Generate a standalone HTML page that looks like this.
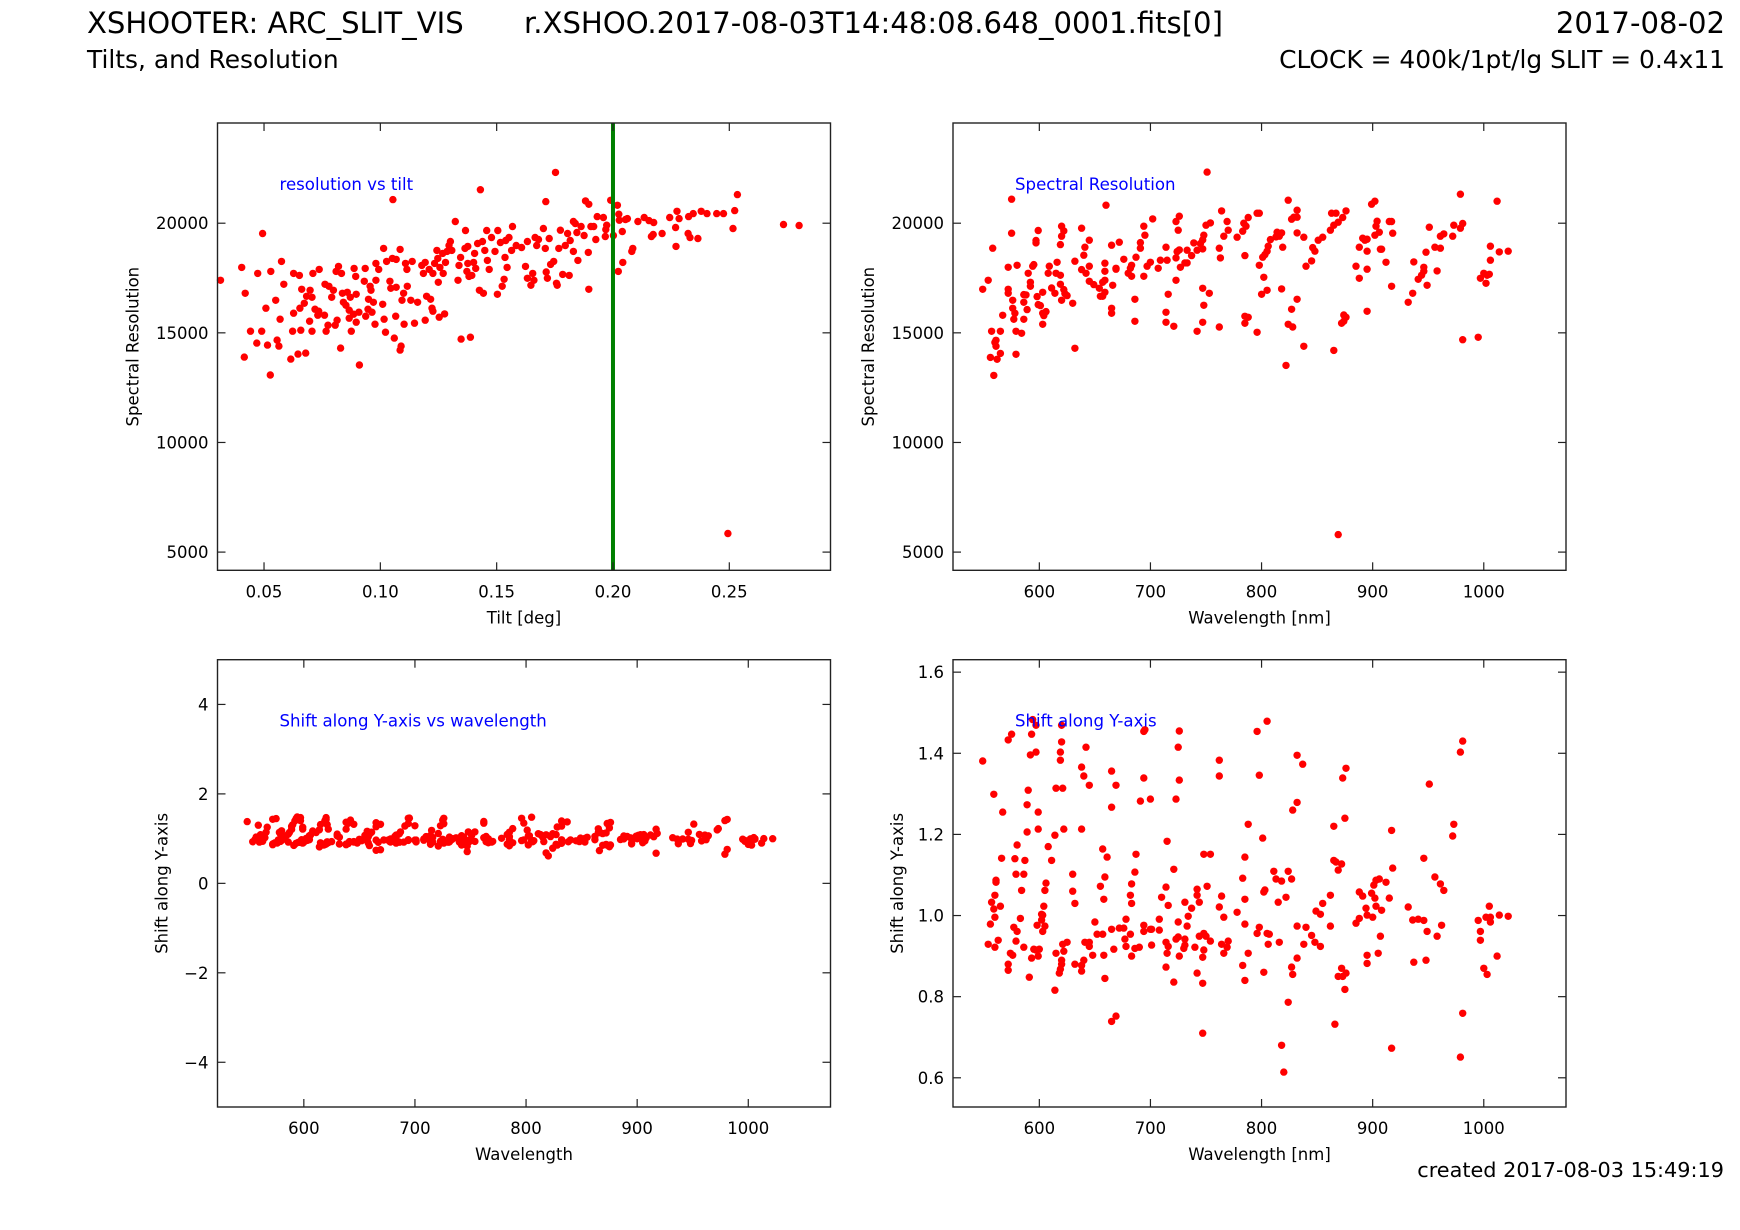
<!DOCTYPE html>
<html><head><meta charset="utf-8"><style>
html,body{margin:0;padding:0;background:#fff;}
svg{display:block;font-family:"DejaVu Sans","Liberation Sans",sans-serif;}
</style></head><body>
<svg id="fig" width="1740" height="1230" viewBox="0 0 1740 1230">
<text x="87" y="33" font-size="29.1" fill="#000">XSHOOTER: ARC_SLIT_VIS</text>
<text x="524" y="33" font-size="29.1" fill="#000">r.XSHOO.2017-08-03T14:48:08.648_0001.fits[0]</text>
<text x="1725" y="33" font-size="29.1" text-anchor="end" fill="#000">2017-08-02</text>
<text x="87" y="68" font-size="24.9" fill="#000">Tilts, and Resolution</text>
<text x="1725" y="68" font-size="24.9" text-anchor="end" fill="#000">CLOCK = 400k/1pt/lg SLIT = 0.4x11</text>
<text x="1724" y="1177" font-size="20.8" text-anchor="end" fill="#000">created 2017-08-03 15:49:19</text>
</svg>
<script>
const tilt1=[0.0313,0.0404,0.0419,0.0415,0.0442,0.0469,0.0473,0.0494,0.0490,0.0508,0.0515,0.0529,0.0527,0.0550,0.0556,0.0564,0.0575,0.0569,0.0585,0.0615,0.0623,0.0627,0.0627,0.0646,0.0652,0.0654,0.0658,0.0662,0.0673,0.0679,0.0683,0.0698,0.0706,0.0706,0.0696,0.0710,0.0719,0.0731,0.0737,0.0735,0.0762,0.0760,0.0767,0.0779,0.0775,0.0791,0.0798,0.0806,0.0810,0.0820,0.0814,0.0829,0.0833,0.0837,0.0841,0.0852,0.0858,0.0866,0.0871,0.0866,0.0875,0.0887,0.0885,0.0894,0.0896,0.0896,0.0910,0.0908,0.0931,0.0935,0.0937,0.0947,0.0949,0.0956,0.0960,0.0964,0.0970,0.0977,0.0981,0.0981,0.0993,0.1010,0.1016,0.1014,0.1022,0.1027,0.1041,0.1045,0.1052,0.1054,0.1068,0.1068,0.1060,0.1066,0.1085,0.1085,0.1089,0.1093,0.1100,0.1102,0.1108,0.1114,0.1116,0.1131,0.1137,0.1147,0.1160,0.1178,0.1185,0.1193,0.1193,0.1199,0.1210,0.1216,0.1222,0.1226,0.1226,0.1233,0.1243,0.1249,0.1247,0.1253,0.1256,0.1270,0.1268,0.1276,0.1280,0.1287,0.1295,0.1301,0.1307,0.1322,0.1334,0.1338,0.1345,0.1347,0.1364,0.1366,0.1372,0.1376,0.1376,0.1387,0.1381,0.1393,0.1401,0.1405,0.1410,0.1418,0.1426,0.1430,0.1439,0.1443,0.1449,0.1457,0.1460,0.1468,0.1478,0.1493,0.1505,0.1503,0.1516,0.1524,0.1532,0.1536,0.1539,0.1545,0.1553,0.1564,0.1568,0.1584,0.1607,0.1624,0.1632,0.1632,0.1647,0.1655,0.1660,0.1665,0.1672,0.1680,0.1701,0.1709,0.1711,0.1713,0.1718,0.1726,0.1732,0.1745,0.1753,0.1757,0.1760,0.1767,0.1774,0.1784,0.1795,0.1805,0.1812,0.1816,0.1830,0.1830,0.1838,0.1845,0.1849,0.1863,0.1876,0.1882,0.1896,0.1896,0.1894,0.1905,0.1917,0.1926,0.1932,0.1959,0.1967,0.1969,0.1973,0.1990,0.2002,0.2019,0.2025,0.2023,0.2027,0.2040,0.2042,0.2054,0.2062,0.2081,0.2085,0.2107,0.2134,0.2155,0.2175,0.2165,0.2173,0.2211,0.2244,0.2271,0.2269,0.2275,0.2284,0.2325,0.2323,0.2331,0.2345,0.2365,0.2379,0.2404,0.2446,0.2475,0.2494,0.2516,0.2523,0.2535,0.2733,0.2800];
const res1=[17394,17985,16803,13894,15076,14531,17712,19530,15076,16122,14440,17803,13076,16485,14667,14394,18258,15622,17212,13803,15076,17712,15894,14031,17621,16122,15121,16985,16349,14076,16667,16940,16621,15076,15531,17712,16076,15803,17894,15985,17212,15803,15076,17121,15349,16621,16940,15349,17803,18030,15576,14303,17712,16803,16394,16258,16849,15667,16621,16031,15076,17940,15849,17576,16758,15485,13531,15940,17349,17940,15758,16076,16531,17121,16940,15940,16394,15394,17394,18167,17894,16303,15622,18849,15031,18258,17349,17031,18394,21076,17076,18349,14758,15758,18803,14213,14394,16485,16803,15394,18167,17894,17121,16485,18258,15440,16394,18076,17712,18212,15576,16667,17894,16531,16122,17712,15985,18167,18758,17303,18394,15713,17985,17712,18621,15864,18212,18713,18985,19167,18758,20076,17394,18076,18440,14713,18849,19667,17803,18167,18940,14803,17576,17621,18212,18621,17940,19076,16940,21530,19167,16803,18758,19667,18303,17894,19349,18713,19667,16758,19121,17121,17440,18440,19212,17985,19349,18758,19849,18985,18894,18030,19167,17485,17167,17712,17394,19349,18985,19258,19758,18849,20985,17773,17485,19303,18121,18258,22318,17258,17167,18849,19682,17667,18985,19530,17621,19212,20076,18713,19985,19576,18303,19849,19440,21015,20864,16985,18667,19849,19849,19258,20303,20258,19394,19712,19909,21045,19440,20818,20409,17803,20136,19621,18212,20167,20212,18713,18849,20076,20258,20121,20030,19394,19485,19530,20258,18940,19803,20545,20212,20303,19530,19349,20439,19303,20545,20439,20439,20439,5849,19758,20576,21303,19939,19894];
const tiltLimit=[0.2];

const wave2=[549,554,558,575,575,572,580,572,572,576,576,567,578,577,557,565,579,584,560,561,561,565,556,562,559,579,586,586,586,589,588,592,592,590,594,595,597,597,599,598,599,601,603,604,606,603,603,608,609,611,614,615,616,619,619,619,620,622,620,622,623,625,630,620,632,632,638,640,641,645,638,642,645,645,649,654,655,657,659,659,659,659,657,665,665,666,669,669,665,672,676,680,682,683,683,686,686,687,691,691,694,695,694,697,700,702,707,709,715,714,716,714,714,721,723,723,724,726,725,723,726,727,731,733,733,737,739,742,745,747,748,747,751,754,750,753,747,748,747,742,762,764,769,770,778,766,762,763,785,788,784,786,783,785,788,785,796,798,796,798,801,802,805,800,803,805,806,808,813,816,818,814,819,818,822,824,827,832,829,832,838,832,832,827,824,828,838,840,845,848,846,851,855,862,863,865,869,873,876,867,865,869,872,874,876,874,895,902,899,904,903,906,902,893,895,888,895,908,907,912,915,917,918,891,885,895,888,917,932,936,941,944,946,937,946,949,948,956,958,961,961,964,951,972,979,981,973,979,981,995,997,1000,1002,1003,1005,1006,1014,1022,1006,1012,660];
const res2=[16986,17397,18859,21096,19543,17991,18082,16986,16804,16484,16119,15799,15891,15617,15069,15069,15069,14978,14566,14658,14384,14064,13882,13791,13060,14019,15617,16743,16393,16058,16728,17306,17124,17717,18037,18113,19102,19209,19665,16652,16286,16241,15388,15784,15967,15891,16850,17717,18037,17047,16804,17717,18219,17626,17215,19026,19406,19650,19863,16971,16789,16697,16347,16484,14293,18265,17884,18539,18904,19224,19772,17717,18037,17352,17199,17032,16667,17306,17397,17808,18174,16850,16667,16119,15891,17169,17945,17900,18996,19132,18356,17717,17945,18082,17580,15525,16530,18448,18859,19117,17580,19452,19863,18037,18219,20198,17945,18311,18311,18904,16758,15936,15480,15297,17397,18417,18706,18782,19680,20076,20320,17991,18189,18767,18189,18524,19102,18767,19072,19239,19452,18828,22329,20015,19909,16804,17032,16256,15480,15069,15266,20563,20076,19680,19361,19406,18859,18417,18524,20259,20000,19863,19635,15434,15708,15754,15023,20457,20457,18082,18448,17534,16941,16758,18569,18722,18950,19254,19376,19406,19559,19589,18904,17002,13516,21050,20183,20274,20274,19559,19361,20594,16530,16073,15388,15266,14384,18037,18280,18722,18889,19224,19361,19680,20457,19909,20046,20259,20563,20457,14201,5800,15434,15525,15708,15815,15982,21004,20868,20091,19863,19589,19452,19224,19270,18904,18722,18813,18813,18219,20076,20076,19543,19315,18037,17900,17489,17124,16393,16804,17443,17626,17808,18234,17991,17169,18676,18904,17823,18859,19406,19513,19817,19406,19772,19985,19909,21324,14688,14795,17489,17717,17260,17626,17671,18311,18691,18722,18950,21004,20822,21553];

const wave34=[549,559,567,572,575,590,589,599,592,597,594,597,593,589,599,580,566,578,608,614,622,611,619,619,620,620,615,621,642,638,640,645,638,630,630,632,665,669,665,657,661,659,655,658,694,695,694,691,700,687,686,683,682,683,726,725,726,723,715,721,714,710,716,748,754,751,742,742,744,737,731,762,762,764,762,766,778,796,805,798,788,801,785,783,785,785,802,803,811,813,818,824,827,822,815,832,837,832,828,862,855,849,853,865,875,873,876,865,867,872,869,888,891,894,899,901,903,906,912,902,903,908,915,900,895,917,918,932,936,941,946,949,946,951,956,961,964,962,958,973,972,979,981,995,1002,1005,1006,1006,1014,1022,997,997,1012,1000,1003,981,979,937,948,917,905,895,895,907,885,888,875,872,869,873,876,866,862,853,848,845,840,838,832,832,827,828,824,818,820,816,807,805,806,798,796,802,788,783,785,770,769,766,764,754,750,748,744,748,747,747,747,742,740,734,733,731,731,730,726,725,723,725,716,715,714,721,714,708,708,701,701,700,694,694,690,686,683,682,677,678,678,676,672,665,667,669,665,659,658,657,652,650,648,645,645,641,640,638,638,632,625,622,621,620,620,619,618,615,614,604,605,606,602,603,605,603,602,598,600,599,597,595,593,591,586,583,584,586,579,587,579,580,577,576,574,572,572,563,560,554,556,559,557,560,561,561,560,565];
const shift34=[1.381,1.299,1.255,1.433,1.447,1.309,1.273,1.255,1.396,1.403,1.483,1.469,1.447,1.206,1.213,1.174,1.141,1.140,1.170,1.198,1.213,1.136,1.383,1.403,1.428,1.469,1.314,1.314,1.415,1.366,1.344,1.321,1.213,1.102,1.060,1.030,1.356,1.321,1.267,1.164,1.144,1.095,1.072,1.040,1.454,1.458,1.339,1.282,1.287,1.151,1.107,1.078,1.050,1.030,1.455,1.415,1.334,1.287,1.183,1.114,1.070,1.045,1.025,1.151,1.151,1.072,1.065,1.050,1.033,1.018,1.033,1.383,1.344,1.048,1.021,0.996,1.008,1.454,1.479,1.346,1.225,1.191,1.144,1.092,1.040,0.979,1.058,1.063,1.109,1.090,1.085,1.109,1.090,1.045,1.033,1.395,1.373,1.279,1.260,1.050,1.030,1.011,1.003,1.220,1.240,1.339,1.363,1.136,1.132,1.127,1.112,1.058,1.048,1.018,1.055,1.075,1.087,1.090,1.082,1.043,1.023,1.013,1.043,0.996,1.001,1.210,1.117,1.021,0.989,0.991,0.988,0.961,1.141,1.324,1.095,1.078,1.062,0.976,0.949,1.225,1.196,1.403,1.430,0.988,0.996,1.023,0.996,0.984,1.001,0.998,0.961,0.939,0.900,0.870,0.855,0.759,0.651,0.885,0.890,0.673,0.907,0.902,0.882,0.949,0.981,0.993,0.818,0.870,0.850,0.850,0.858,0.732,0.974,0.924,0.934,0.951,0.971,0.929,0.974,0.895,0.873,0.855,0.786,0.680,0.614,0.934,0.954,0.956,0.929,0.971,0.956,0.860,0.907,0.877,0.840,0.937,0.922,0.907,0.929,0.937,0.949,0.956,0.949,0.915,0.897,0.833,0.710,0.858,0.922,0.998,0.974,0.942,0.927,0.919,0.900,0.947,0.942,0.984,0.924,0.907,0.873,0.836,0.934,0.991,0.964,0.966,0.927,0.966,0.961,0.976,0.922,0.919,0.900,0.954,0.942,0.991,0.924,0.969,0.969,0.966,0.917,0.752,0.739,0.845,0.902,0.954,0.954,0.984,0.902,0.934,0.924,0.934,0.890,0.863,0.877,0.880,0.934,0.912,0.929,0.890,0.880,0.868,0.858,0.907,0.816,1.023,1.062,1.080,1.003,1.001,0.974,0.961,0.989,0.976,0.917,0.900,0.915,0.917,0.895,0.848,0.922,0.993,1.062,1.102,1.102,1.136,0.937,0.961,0.971,0.902,0.907,0.880,0.865,0.939,0.922,0.929,0.979,1.016,1.033,1.050,1.082,1.087,0.996,1.023];

const resTicks=[5000,10000,15000,20000];
const tiltTicks=[0.05,0.10,0.15,0.20,0.25];
const waveTicks=[600,700,800,900,1000];
const shiftTicksWide=[-4,-2,0,2,4];
const shiftTicksNarrow=[0.6,0.8,1.0,1.2,1.4,1.6];

const NS='http://www.w3.org/2000/svg';
const fig=document.getElementById('fig');
function mk(tag,attrs,parent){const e=document.createElementNS(NS,tag);for(const k in attrs)e.setAttribute(k,attrs[k]);(parent||fig).appendChild(e);return e;}

function panel(o){
  const g=mk('g',{});
  
  
  const X=v=>o.x0+(v-o.xmin)/(o.xmax-o.xmin)*(o.x1-o.x0);
  const Y=v=>o.y1-(v-o.ymin)/(o.ymax-o.ymin)*(o.y1-o.y0);
  const pts=mk('g',{},g);
  
  
  for(let i=0;i<o.xs.length;i++){
    const yy=Y(o.ys[i]);if(yy<o.y0||yy>o.y1)continue;
    const c=mk('circle',{cx:X(o.xs[i]).toFixed(1),cy:yy.toFixed(1),r:3.7,fill:'#ff0000'},pts);
    
    
  }
  if(o.vline){for(const v of o.vline){
    const l=mk('line',{x1:X(v),x2:X(v),y1:o.y0,y2:o.y1,stroke:'#008000','stroke-width':4},g);
    
    
  }}
  const fr=mk('rect',{x:o.x0,y:o.y0,width:o.x1-o.x0,height:o.y1-o.y0,fill:'none',stroke:'#222','stroke-width':1.4},g);
  
  
  for(const t of o.xt){const x=X(t);
    mk('line',{x1:x,x2:x,y1:o.y1,y2:o.y1-8,stroke:'#222','stroke-width':1.2},g);
    mk('line',{x1:x,x2:x,y1:o.y0,y2:o.y0+8,stroke:'#222','stroke-width':1.2},g);
    const tx=mk('text',{x:x,y:o.y1+27,'font-size':16.5,'text-anchor':'middle',fill:'#000'},g);
    tx.textContent=o.xfmt(t);
    
    
  }
  for(const t of o.yt){const y=Y(t);
    mk('line',{x1:o.x0,x2:o.x0+8,y1:y,y2:y,stroke:'#222','stroke-width':1.2},g);
    mk('line',{x1:o.x1,x2:o.x1-8,y1:y,y2:y,stroke:'#222','stroke-width':1.2},g);
    const ty=mk('text',{x:o.x0-9,y:y+6,'font-size':16.5,'text-anchor':'end',fill:'#000'},g);
    ty.textContent=o.yfmt(t);
    
    
  }
  const xl=mk('text',{x:(o.x0+o.x1)/2,y:o.y1+53,'font-size':16.5,'text-anchor':'middle',fill:'#000'},g);
  xl.textContent=o.xlabel;
  
  
  const yx=o.x0-o.ylOff,yc=(o.y0+o.y1)/2;
  const yl=mk('text',{x:yx,y:yc,'font-size':16.5,'text-anchor':'middle',fill:'#000',transform:`rotate(-90 ${yx} ${yc})`},g);
  yl.textContent=o.ylabel;
  
  
  const an=mk('text',{x:o.x0+62,y:o.y0+67,'font-size':16.6,fill:'#0000ff'},g);
  an.textContent=o.note;
  
  
}
const L=[217.5,830.5],R=[953,1566],T=[123,570.3],B=[659.7,1107];
panel({name:'resolution-vs-tilt-plot',x0:L[0],x1:L[1],y0:T[0],y1:T[1],xmin:0.03,xmax:0.2935,ymin:4170,ymax:24570,xs:tilt1,ys:res1,xt:tiltTicks,yt:resTicks,xfmt:t=>t.toFixed(2),yfmt:t=>String(t),xlabel:'Tilt [deg]',ylabel:'Spectral Resolution',ylOff:79,note:'resolution vs tilt',vline:tiltLimit});
panel({name:'resolution-vs-wavelength-plot',x0:R[0],x1:R[1],y0:T[0],y1:T[1],xmin:522.3,xmax:1074,ymin:4170,ymax:24570,xs:wave2,ys:res2,xt:waveTicks,yt:resTicks,xfmt:t=>String(t),yfmt:t=>String(t),xlabel:'Wavelength [nm]',ylabel:'Spectral Resolution',ylOff:79,note:'Spectral Resolution'});
panel({name:'shift-wide-plot',x0:L[0],x1:L[1],y0:B[0],y1:B[1],xmin:522.3,xmax:1074,ymin:-5,ymax:5,xs:wave34,ys:shift34,xt:waveTicks,yt:shiftTicksWide,xfmt:t=>String(t),yfmt:t=>t<0?'\u2212'+Math.abs(t):String(t),xlabel:'Wavelength',ylabel:'Shift along Y-axis',ylOff:50,note:'Shift along Y-axis vs wavelength'});
panel({name:'shift-zoom-plot',x0:R[0],x1:R[1],y0:B[0],y1:B[1],xmin:522.3,xmax:1074,ymin:0.528,ymax:1.6307,xs:wave34,ys:shift34,xt:waveTicks,yt:shiftTicksNarrow,xfmt:t=>String(t),yfmt:t=>t.toFixed(1),xlabel:'Wavelength [nm]',ylabel:'Shift along Y-axis',ylOff:50,note:'Shift along Y-axis'});
</script>
</body></html>
